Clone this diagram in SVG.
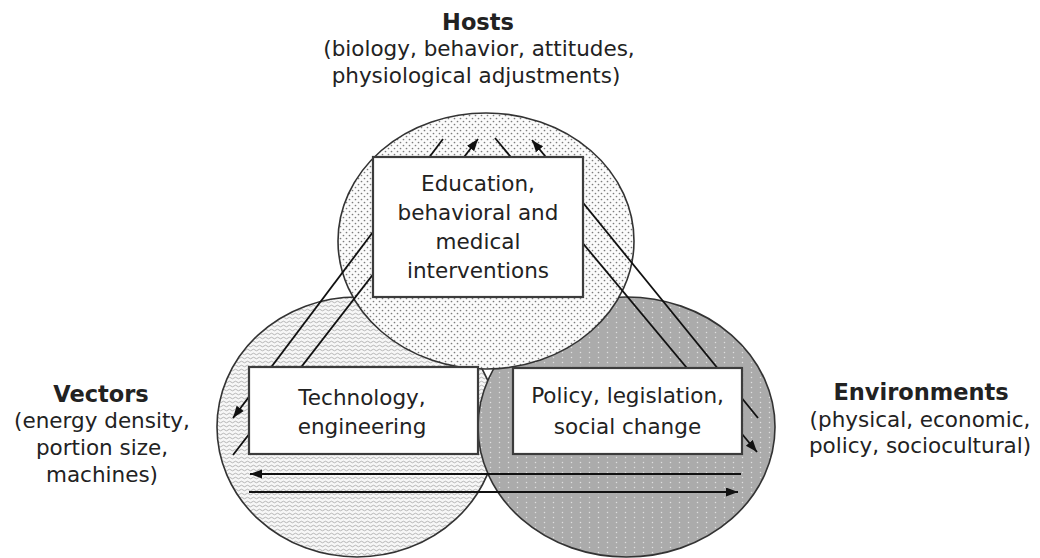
<svg xmlns="http://www.w3.org/2000/svg" width="1040" height="558" viewBox="0 0 1040 558">
<style>
.t{font-family:"DejaVu Sans",sans-serif;font-size:21.5px;fill:#222;text-anchor:middle}
.h{font-family:"DejaVu Sans",sans-serif;font-size:22.5px;font-weight:bold;fill:#222;text-anchor:middle}
.circ{stroke:#333;stroke-width:1.6}
.box{fill:#fff;stroke:#3c3c3c;stroke-width:2.2}
.ln{stroke:#111;stroke-width:1.8;fill:none}
</style>
<defs>
<pattern id="dots" width="6" height="6" patternUnits="userSpaceOnUse">
<rect width="6" height="6" fill="#fbfbfb"/>
<circle cx="1.5" cy="1.5" r="0.85" fill="#7c7c7c"/>
<circle cx="4.5" cy="4.5" r="0.85" fill="#7c7c7c"/>
</pattern>
<pattern id="waves" width="6" height="4" patternUnits="userSpaceOnUse">
<rect width="6" height="4" fill="#f7f7f7"/>
<path d="M0,2 q1.5,-1.6 3,0 t3,0" fill="none" stroke="#9a9a9a" stroke-width="0.7"/>
</pattern>
<pattern id="gray" width="9" height="5" patternUnits="userSpaceOnUse">
<rect width="9" height="5" fill="#ababab"/>
<circle cx="4.5" cy="2.5" r="0.75" fill="#dedede"/>
</pattern>
<marker id="ah" markerUnits="userSpaceOnUse" markerWidth="14" markerHeight="10" refX="12" refY="4.5" orient="auto">
<path d="M0,0 L12,4.5 L0,9 z" fill="#111"/>
</marker>
</defs>
<g id="vectors-circle"><ellipse class="circ" cx="357" cy="427" rx="140" ry="130" fill="url(#waves)"/></g>
<g id="environments-circle"><ellipse class="circ" cx="626.5" cy="427" rx="148.5" ry="130" fill="url(#gray)"/></g>
<g id="hosts-circle"><ellipse class="circ" cx="486" cy="241" rx="148" ry="128" fill="url(#dots)"/></g>
<g id="connectors">
<path class="ln" d="M443,139 L233,418" marker-end="url(#ah)"/>
<path class="ln" d="M233,455 L478,139" marker-end="url(#ah)"/>
<path class="ln" d="M758,418 L532,140" marker-end="url(#ah)"/>
<path class="ln" d="M495,138 L757,452" marker-end="url(#ah)"/>
<path class="ln" d="M741,474 L250,474" marker-end="url(#ah)"/>
<path class="ln" d="M249,492 L738,492" marker-end="url(#ah)"/>
</g>
<g id="education">
<rect class="box" x="373" y="157" width="210" height="140"/>
<text class="t" x="478" y="191">Education,</text>
<text class="t" x="478" y="220">behavioral and</text>
<text class="t" x="478" y="249">medical</text>
<text class="t" x="478" y="278">interventions</text>
</g>
<g id="technology">
<rect class="box" x="249" y="367" width="229" height="87"/>
<text class="t" x="362" y="405">Technology,</text>
<text class="t" x="362" y="434">engineering</text>
</g>
<g id="policy">
<rect class="box" x="513" y="368" width="229" height="86"/>
<text class="t" x="627.5" y="403">Policy, legislation,</text>
<text class="t" x="627.5" y="434">social change</text>
</g>
<g id="hosts">
<text class="h" x="478" y="30">Hosts</text>
<text class="t" x="479" y="56">(biology, behavior, attitudes,</text>
<text class="t" x="476" y="83">physiological adjustments)</text>
</g>
<g id="vectors">
<text class="h" x="101" y="402">Vectors</text>
<text class="t" x="102" y="428">(energy density,</text>
<text class="t" x="102" y="455">portion size,</text>
<text class="t" x="102" y="482">machines)</text>
</g>
<g id="environments">
<text class="h" x="921" y="400">Environments</text>
<text class="t" x="920" y="427">(physical, economic,</text>
<text class="t" x="920" y="453">policy, sociocultural)</text>
</g>
</svg>
